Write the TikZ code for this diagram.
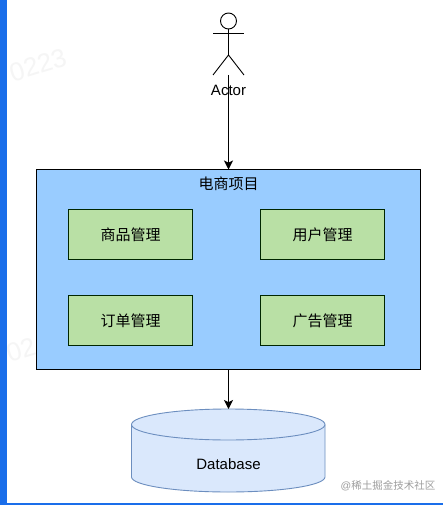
\documentclass[tikz,border=0pt]{standalone}
\usepackage{fontspec}
\setmainfont{Liberation Sans}
\newfontfamily\cjk{Noto Sans CJK SC}
\usetikzlibrary{arrows.meta}
\definecolor{framebar}{HTML}{1A6EEA}
\definecolor{outerblue}{HTML}{99CCFF}
\definecolor{innergreen}{HTML}{B9E0A5}
\definecolor{dbfill}{HTML}{DAE8FC}
\definecolor{dbline}{HTML}{6C8EBF}
\tikzset{
  every node/.style={font=\fontsize{15}{18}\selectfont, inner sep=0pt, outer sep=0pt},
  outerbox/.style={draw=black, line width=1pt, fill=outerblue, minimum width=384pt, minimum height=200pt},
  modbox/.style={draw=black!85!green, line width=1pt, fill=innergreen, minimum width=124pt, minimum height=50pt},
  dbshape/.style={draw=dbline, line width=0.9pt, fill=dbfill},
  conn/.style={draw=black, line width=1.2pt, -{Stealth[length=9pt,width=9pt,inset=2.2pt]}},
  stick/.style={draw=black, line width=0.9pt},
  faintmark/.style={text=black!4, font=\fontsize{26}{30}\selectfont}
}
\begin{document}
\begin{tikzpicture}[x=1pt,y=-1pt]
\useasboundingbox (0,0) rectangle (443,505);
\fill[white] (0,0) rectangle (443,505);
\fill[framebar] (0,0) rectangle (7,505);
\fill[framebar] (0,503) rectangle (443,505);
\node[faintmark, rotate=17] (markA) at (38,65) {0223};
\node[faintmark, rotate=17] (markB) at (21,350) {02};
% actor
\node[stick, circle, minimum size=16pt, fill=white] (head) at (228.5,21) {};
\coordinate (armL) at (213,33);
\coordinate (armR) at (244,33);
\coordinate (hip) at (228.5,55);
\coordinate (footL) at (213,75);
\coordinate (footR) at (244,75);
\coordinate (actorBase) at (228.5,75);
\draw[stick] (head.south) -- (hip);
\draw[stick] (armL) -- (armR);
\draw[stick] (footL) -- (hip) -- (footR);
\node (actorLabel) at (228.5,90.5) {Actor};
% main box
\node[outerbox] (main) at (228.5,269.5) {};
\node (mainLabel) at (228.5,184) {\cjk 电商项目};
\node[modbox] (goods) at (130.5,234.5) {\cjk 商品管理};
\node[modbox] (users) at (322.5,234.5) {\cjk 用户管理};
\node[modbox] (orders) at (130.5,320.5) {\cjk 订单管理};
\node[modbox] (ads) at (322.5,320.5) {\cjk 广告管理};
% database
\coordinate (dbTop) at (228.5,409);
\draw[dbshape] (131.5,424.5) arc[start angle=180,end angle=0,x radius=96.75,y radius=-15.5]
  -- (325,477) arc[start angle=0,end angle=-180,x radius=96.75,y radius=-15]
  -- cycle;
\draw[dbshape,fill=none] (131.5,424.5) arc[start angle=180,end angle=360,x radius=96.75,y radius=-15.5];
\node (dbLabel) at (228.5,464.5) {Database};
% connectors
\draw[conn] (actorBase) -- (main.north);
\draw[conn] (main.south) -- (dbTop);
\node[text=black!38, font=\fontsize{10.5}{12}\selectfont] (credit) at (388,486) {@{\cjk 稀土掘金技术社区}};
\end{tikzpicture}
\end{document}
